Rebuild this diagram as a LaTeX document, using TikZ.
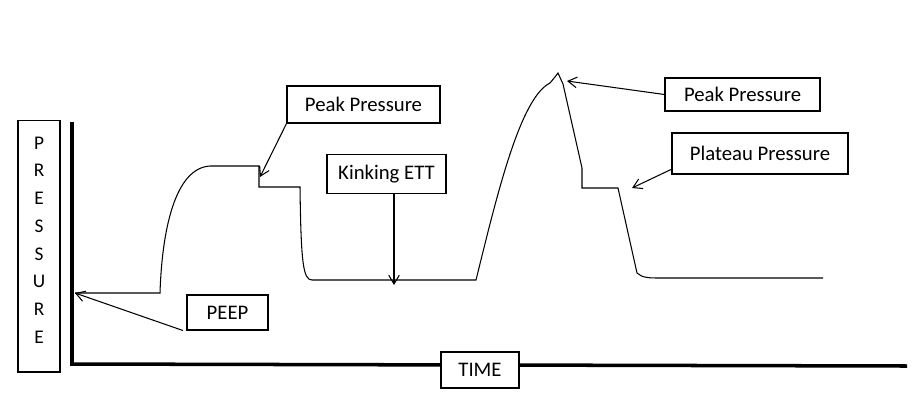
\documentclass[tikz,border=0pt]{standalone}
\usepackage{fontspec}
\setmainfont{Carlito}
\usetikzlibrary{arrows.meta}

\begin{document}
\begin{tikzpicture}[x=.02cm,y=-.02cm,line width=.6pt,>={Straight Barb[length=5pt,width=6pt]},
    lbl/.style={draw,fill=white,inner sep=0,font=\fontsize{11.8}{13}\selectfont}]
  \useasboundingbox (0,0) rectangle (916,400);
  % axes
  \draw[line width=2pt] (72,122) -- (72,364) -- (907,366);
  % pressure trace
  \draw (75,293) -- (160,293) .. controls (162,230) and (175,168) .. (210,166) -- (259,166)
    -- (259,187) -- (300,187) .. controls (301,262) and (303,280) .. (312,280) -- (476,280)
    .. controls (497,195) and (520,98) .. (550,83) -- (555,77) -- (558,73) -- (563,84)
    -- (582,168) -- (582,188) -- (618,188) -- (637,273) .. controls (642,278) and (650,278) .. (660,278)
    -- (823,278);
  % boxes
  \foreach \n/\x/\y/\w/\h/\t in {pk1/363.5/104.5/3.06/.74/Peak Pressure, kink/386.5/174/2.38/.78/Kinking ETT,
      peep/227.5/312.5/1.62/.7/PEEP, pk2/742.5/94.5/3.1/.66/Peak Pressure,
      plat/760/153.5/3.52/.82/Plateau Pressure, time/480/370/1.56/.72/TIME}
    \node[lbl,minimum width=\w cm,minimum height=\h cm] (\n) at (\x,\y) {\t};
  \node[lbl,minimum width=.84cm,minimum height=5.04cm] (pbox) at (39,246) {};
  \node[align=center,font=\fontsize{11}{15.8}\selectfont] (ptxt) at (39,240) {P\\R\\E\\S\\S\\U\\R\\E};
  % arrows
  \coordinate (t1) at (260,177);
  \coordinate (t2) at (394,285);
  \coordinate (t3) at (75,293);
  \coordinate (t4) at (567,81);
  \coordinate (t5) at (632,188);
  \draw[->] (pk1.south west) -- (t1);
  \draw[->] (kink.south -| t2) -- (t2);
  \draw[->] ([xshift=-2pt]peep.south west) -- (t3);
  \draw[->] (pk2.west) -- (t4);
  \draw[->] ([yshift=3pt]plat.south west) -- (t5);
\end{tikzpicture}
\end{document}
